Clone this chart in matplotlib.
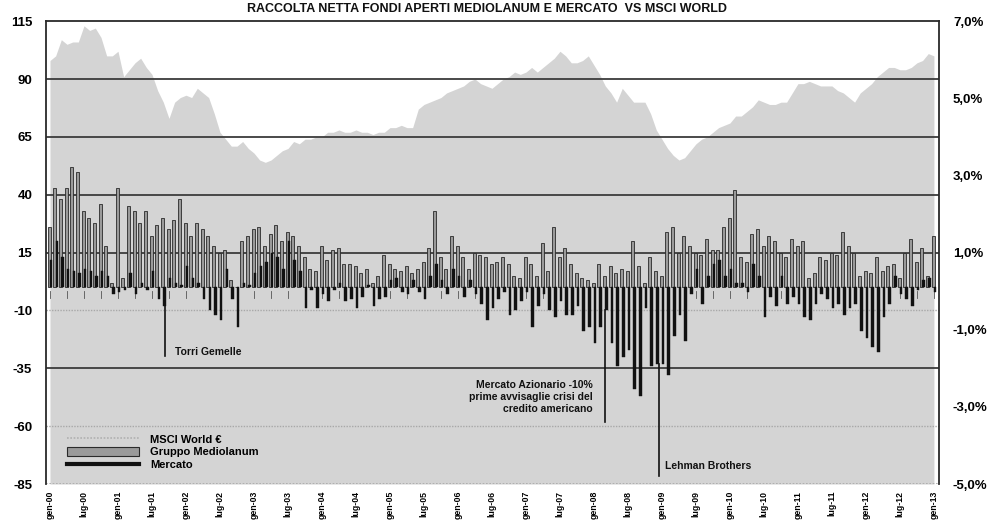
import matplotlib
matplotlib.use("Agg")
import matplotlib.pyplot as plt
from matplotlib.lines import Line2D
from matplotlib.patches import Patch
import numpy as np

plt.rcParams['font.family'] = ['Liberation Sans', 'DejaVu Sans']

# ---- data (monthly, gen-00 .. gen-13) ----
msci_world = [98, 100, 107, 105, 106, 106, 113, 111, 112, 108, 100, 100,
              102, 91, 94, 97, 99, 95, 92, 85, 80, 73, 80, 82,
              83, 82, 86, 84, 82, 75, 67, 64, 61, 61, 63, 60,
              58, 55, 54, 55, 57, 59, 60, 63, 62, 64, 64, 65,
              65, 67, 67, 68, 67, 67, 68, 67, 67, 66, 67, 67,
              69, 69, 70, 69, 69, 77, 79, 80, 81, 82, 84, 85,
              86, 87, 89, 90, 88, 87, 86, 88, 90, 91, 93, 92,
              93, 95, 93, 95, 97, 99, 102, 100, 97, 97, 98, 100,
              96, 92, 87, 84, 80, 86, 83, 80, 80, 80, 75, 68,
              64, 60, 57, 55, 56, 59, 62, 64, 65, 67, 69, 70,
              71, 74, 74, 76, 78, 81, 80, 79, 79, 80, 80, 84,
              88, 88, 89, 88, 87, 87, 87, 85, 84, 82, 80, 84,
              86, 88, 91, 93, 95, 95, 94, 94, 95, 97, 98, 101, 100]

mediolanum = [26, 43, 38, 43, 52, 50, 33, 30, 28, 36, 18, 2,
              43, 4, 35, 33, 28, 33, 22, 27, 30, 25, 29, 38,
              28, 22, 28, 25, 22, 18, 15, 16, 3, 0, 20, 22,
              25, 26, 18, 23, 27, 20, 24, 22, 18, 13, 8, 7,
              18, 12, 16, 17, 10, 10, 9, 6, 8, 2, 5, 14,
              10, 8, 7, 9, 6, 8, 11, 17, 33, 13, 8, 22,
              18, 13, 8, 15, 14, 13, 10, 11, 13, 10, 5, 4,
              13, 10, 5, 19, 7, 26, 13, 17, 10, 6, 4, 3,
              2, 10, 5, 9, 6, 8, 7, 20, 9, 2, 13, 7,
              5, 24, 26, 15, 22, 18, 15, 14, 21, 16, 16, 26,
              30, 42, 13, 11, 23, 25, 18, 22, 20, 15, 13, 21,
              18, 20, 4, 6, 13, 12, 15, 14, 24, 18, 15, 5,
              7, 6, 13, 7, 9, 10, 4, 15, 21, 11, 17, 5, 22]

mercato = [12, 20, 13, 8, 7, 6, 8, 7, 5, 7, 5, -3,
           -2, -1, 6, -3, 2, -1, 7, -5, -8, 4, 2, 1,
           9, 4, 2, -5, -10, -12, -14, 8, -5, -17, 2, 1,
           6, 9, 11, 15, 13, 8, 20, 12, 7, -9, -1, -9,
           -3, -6, -1, 2, -6, -5, -9, -4, 1, -8, -5, -4,
           3, 4, -2, -3, 3, -2, -5, 5, 10, 3, -3, 8,
           5, -4, 3, -3, -7, -14, -9, -5, -2, -12, -10, -6,
           -2, -17, -8, -3, -10, -13, -6, -12, -12, -8, -19, -17,
           -24, -17, -10, -24, -34, -30, -27, -44, -47, -9, -34, -33,
           -33, -38, -21, -12, -23, -3, 8, -7, 5, 10, 12, 5,
           8, 2, 2, -2, 10, 5, -13, -4, -8, 5, -7, -4,
           -7, -13, -14, -7, -3, -5, -9, -7, -12, -9, -7, -19,
           -22, -26, -28, -13, -7, 5, -3, -5, -8, -1, 3, 4, -2]

month_names = ['gen', 'lug']
years = list(range(0, 14))
tick_labels = []
for y in years:
    for mn in month_names:
        if y == 13 and mn == 'lug':
            continue
        tick_labels.append(f"{mn}-{y:02d}")

left_ticks = [-85, -60, -35, -10, 15, 40, 65, 90, 115]
dark_lines = [90, 65, 40, 15, -35]
right_ticks = [-5, -3, -1, 1, 3, 5, 7]

title = "RACCOLTA NETTA FONDI APERTI MEDIOLANUM E MERCATO  VS MSCI WORLD"

annotations = [
    ("Torri Gemelle", 20.3, -29.5, 22.0, -28.0, 'left'),
    ("Mercato Azionario -10%\nprime avvisaglie crisi del\ncredito americano", 97.9, -58.0, 95.8, -47.5, 'right'),
    ("Lehman Brothers", 107.4, -81.7, 108.5, -77.4, 'left'),
]

# ---- figure ----
fig = plt.figure(figsize=(9.94, 5.29), dpi=100)
ax = fig.add_axes([0.0463, 0.085, 0.8984, 0.875])

x = np.arange(len(msci_world))
ymin, ymax = left_ticks[0], left_ticks[-1]

ax.fill_between(x, ymin, msci_world, color='#d4d4d4', linewidth=0, zorder=1)

for t in left_ticks[1:-1]:
    if t in dark_lines:
        ax.axhline(t, color='#3c3c3c', lw=1.3, zorder=1.5)
    else:
        ax.axhline(t, color='#a8a8a8', lw=1.0, ls=(0, (1, 1)), zorder=1.5)
ax.axhline(ymin, color='#a8a8a8', lw=1.2, ls=(0, (1, 1)), zorder=1.5)

ax.bar(x - 0.14, mediolanum, width=0.5, color='#9a9a9a', edgecolor='#2a2a2a',
       linewidth=0.6, zorder=3)
ax.bar(x + 0.2, mercato, width=0.45, color='#111111', edgecolor='#111111',
       linewidth=0.3, zorder=4)

# small tick marks along the zero line
for m in x[::3]:
    ax.plot([m, m], [-1.5, -4.5], color='#555555', lw=0.6, zorder=2)

for txt, lx, ly, tx, ty, ha in annotations:
    bar_val = min(0, mercato[int(round(lx))])
    ax.plot([lx, lx], [bar_val, ly], color='#111111', lw=1.2, zorder=5)
    ax.text(tx, ty, txt, ha=ha, va='center', fontsize=7.5, fontweight='bold',
            color='#111111', linespacing=1.25, zorder=6)

ax.set_xlim(-0.7, len(x) - 0.1)
ax.set_ylim(ymin, ymax)
ax.set_yticks(left_ticks)
ax.set_yticklabels([str(t) for t in left_ticks], fontsize=9.5, fontweight='bold')
ax.tick_params(axis='y', length=0, pad=10)

ax.set_xticks(np.arange(0, len(x), 6))
ax.set_xticklabels(tick_labels, rotation=90, fontsize=6.3, fontweight='bold')
ax.tick_params(axis='x', length=0, pad=5)

for s in ['top', 'left', 'right']:
    ax.spines[s].set_color('#2a2a2a')
    ax.spines[s].set_linewidth(1.3)
ax.spines['bottom'].set_visible(False)

ax2 = ax.twinx()
ax2.set_ylim(right_ticks[0], right_ticks[-1])
ax2.set_yticks(right_ticks)
ax2.set_yticklabels([f"{t:.1f}%".replace('.', ',') for t in right_ticks],
                    fontsize=9.5, fontweight='bold')
ax2.tick_params(axis='y', length=0, pad=10)
for s in ax2.spines.values():
    s.set_visible(False)

handles = [Line2D([], [], color='#b0b0b0', lw=1.2, ls=(0, (1, 1))),
           Patch(facecolor='#9a9a9a', edgecolor='#2a2a2a', linewidth=0.8),
           Line2D([], [], color='#111111', lw=3)]
labels = ["MSCI World €", "Gruppo Mediolanum", "Mercato"]
leg = ax.legend(handles, labels, loc='lower left', bbox_to_anchor=(0.012, 0.008),
                frameon=False, fontsize=8, handlelength=6.5, handleheight=0.8,
                labelspacing=0.25, handletextpad=1.0)
for t in leg.get_texts():
    t.set_fontweight('bold')

fig.text(0.49, 1.0 - 9 / 529, title, ha='center', va='center', fontsize=9,
         fontweight='bold', color='#111111')

fig.savefig("out.png", dpi=100)
